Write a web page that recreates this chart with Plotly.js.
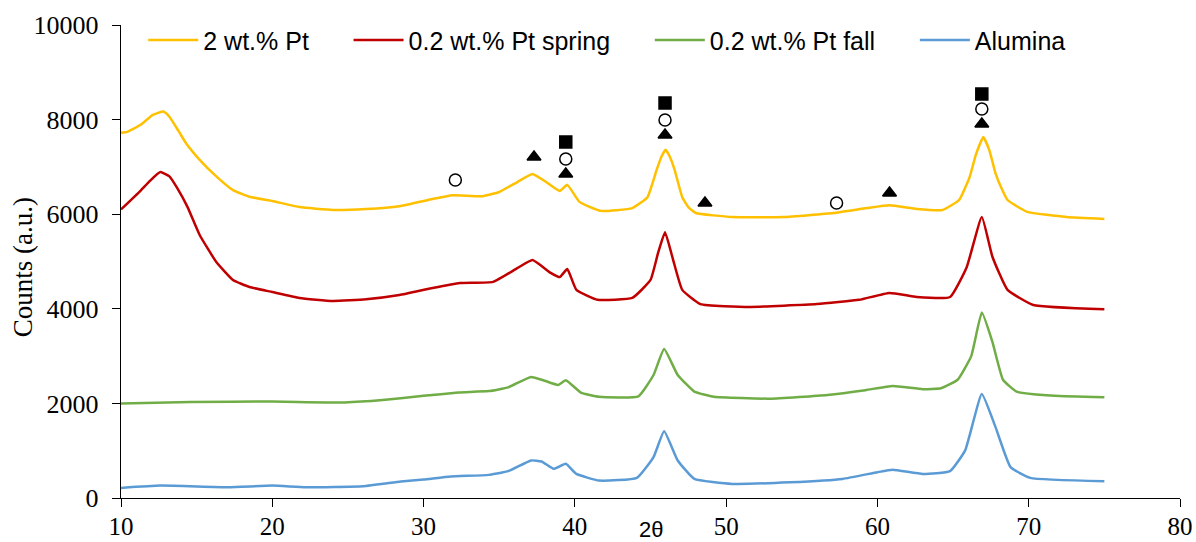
<!DOCTYPE html>
<html>
<head>
<meta charset="utf-8">
<script src="https://cdn.plot.ly/plotly-3.0.1.min.js"></script>
<style>html,body{margin:0;padding:0;background:#fff;}#chart{width:1196px;height:542px;}</style>
</head>
<body>
<div id="chart"></div>
<script>
// 2 wt.% Pt
const pt2X = [10, 10.4, 11.3, 12.1, 12.8, 13.2, 13.8, 14.3, 15.2, 16.3, 17.4, 18.5, 20.0, 21.8, 24.0, 26.2, 28.4, 30.6, 31.9, 33.9, 35.0, 36.2, 37.2, 38.1, 39.0, 39.5, 40.3, 41.7, 43.8, 44.8, 45.4, 45.7, 46.0, 46.3, 46.6, 47.1, 47.5, 48.0, 50.4, 53.8, 57.1, 59.3, 60.8, 62.6, 64.3, 65.4, 66.1, 66.5, 67.0, 67.4, 67.8, 68.2, 68.6, 69.9, 72.5, 75.0];
const pt2Y = [7720, 7740, 7890, 8100, 8170, 8060, 7760, 7500, 7150, 6800, 6510, 6370, 6280, 6150, 6090, 6110, 6170, 6320, 6400, 6380, 6470, 6680, 6850, 6680, 6490, 6620, 6260, 6070, 6130, 6360, 6930, 7200, 7360, 7200, 6930, 6360, 6150, 6025, 5940, 5940, 6025, 6130, 6190, 6110, 6090, 6300, 6790, 7250, 7630, 7350, 6870, 6550, 6300, 6050, 5940, 5900];

// 0.2 wt.% Pt spring
const springX = [10, 11.3, 11.9, 12.6, 13.2, 13.7, 14.4, 15.2, 16.3, 17.4, 18.5, 20.0, 21.8, 24.0, 26.2, 28.4, 30.6, 32.4, 34.6, 36.2, 37.2, 38.4, 39.0, 39.5, 40.1, 41.5, 43.8, 45.0, 45.5, 45.96, 46.5, 47.1, 48.3, 51.6, 56.0, 58.8, 60.8, 62.6, 64.8, 65.9, 66.9, 67.6, 68.6, 70.3, 75.0];
const springY = [6100, 6500, 6700, 6890, 6800, 6560, 6150, 5560, 4990, 4610, 4460, 4355, 4230, 4165, 4200, 4290, 4440, 4545, 4570, 4860, 5030, 4760, 4670, 4840, 4400, 4190, 4230, 4610, 5180, 5620, 5030, 4400, 4100, 4040, 4100, 4190, 4335, 4250, 4250, 4880, 5940, 5100, 4400, 4080, 3990];

// 0.2 wt.% Pt fall
const fallX = [10, 14.6, 20, 24.8, 27.3, 30, 32.3, 34.3, 35.6, 37.1, 38.0, 38.9, 39.4, 40.4, 41.6, 44.2, 45.2, 45.9, 46.8, 47.9, 49.2, 52.9, 56.7, 59.2, 61.0, 63.0, 64.2, 65.3, 66.2, 66.9, 67.6, 68.3, 69.2, 71.7, 75.0];
const fallY = [2000, 2030, 2040, 2020, 2070, 2160, 2230, 2260, 2340, 2560, 2480, 2390, 2490, 2230, 2140, 2150, 2600, 3150, 2600, 2250, 2140, 2100, 2180, 2280, 2370, 2300, 2320, 2500, 3000, 3920, 3300, 2500, 2250, 2160, 2130];

// Alumina
const aluX = [10, 12.6, 17.1, 20, 22.2, 26, 28.5, 30, 31.8, 34.3, 35.6, 37.1, 37.8, 38.6, 39.4, 40.1, 41.6, 44.1, 45.2, 45.9, 46.8, 47.9, 50.4, 54.2, 57.7, 60.0, 61.0, 63.0, 64.8, 65.8, 66.9, 67.8, 68.8, 70.1, 75.0];
const aluY = [213, 262, 227, 262, 227, 248, 348, 390, 454, 489, 567, 794, 773, 617, 723, 510, 369, 426, 865, 1411, 794, 404, 298, 333, 404, 546, 596, 510, 567, 1007, 2199, 1504, 652, 426, 355];

// phase markers
const markX = [32.1, 37.3, 39.4, 39.4, 39.4, 45.96, 45.96, 45.96, 48.6, 57.3, 60.8, 66.9, 66.9, 66.9];
const markY = [6723, 7209, 7526, 7167, 6850, 8351, 7992, 7674, 6237, 6237, 6448, 8541, 8224, 7907];
const markSymbol = ['circle-open', 'triangle-up', 'square', 'circle-open', 'triangle-up', 'square', 'circle-open', 'triangle-up', 'triangle-up', 'circle-open', 'triangle-up', 'square', 'circle-open', 'triangle-up'];

const seriesNames = ['2 wt.% Pt', '0.2 wt.% Pt spring', '0.2 wt.% Pt fall', 'Alumina'];
const seriesColors = ['#FFC000', '#C00000', '#70AD47', '#5B9BD5'];
const seriesX = [pt2X, springX, fallX, aluX];
const seriesY = [pt2Y, springY, fallY, aluY];

const pad = '\u00A0\u00A0\u00A0\u00A0\u00A0';
const traces = seriesNames.map((n, i) => ({
  type: 'scatter', mode: 'lines', name: n + pad,
  x: seriesX[i], y: seriesY[i],
  line: {color: seriesColors[i], width: 2.5, shape: 'spline', smoothing: 0.4}
}));
traces.push({
  type: 'scatter', mode: 'markers', showlegend: false, hoverinfo: 'skip',
  x: markX, y: markY,
  marker: {symbol: markSymbol, size: 12, color: '#000', line: {color: '#000', width: 1.5}}
});

const serif = 'Liberation Serif, Times New Roman, serif';
const layout = {
  width: 1196, height: 542,
  margin: {l: 121, r: 16, t: 25, b: 44},
  paper_bgcolor: '#fff', plot_bgcolor: '#fff',
  showlegend: true,
  legend: {orientation: 'h', x: 0.021, xanchor: 'left', y: 0.968, yanchor: 'middle',
           itemwidth: 50,
           font: {family: 'Liberation Sans, Arial, sans-serif', size: 25, color: '#000'},
           bgcolor: 'rgba(0,0,0,0)'},
  xaxis: {range: [10, 80], dtick: 10, tick0: 10, ticks: 'outside', ticklen: 8, tickcolor: '#000',
          showline: true, linecolor: '#000', linewidth: 1.3, showgrid: false, zeroline: false,
          ticklabelstandoff: -2, tickfont: {family: serif, size: 25, color: '#000'}},
  yaxis: {range: [0, 10000], dtick: 2000, tickformat: 'd', ticks: 'outside', ticklen: 8, tickcolor: '#000',
          showline: true, linecolor: '#000', linewidth: 1.3, showgrid: false, zeroline: false,
          ticklabelstandoff: 8, tickfont: {family: serif, size: 26, color: '#000'}},
  annotations: [
    {text: 'Counts (a.u.)', xref: 'paper', yref: 'paper', x: -0.0925, y: 0.488, textangle: -90,
     showarrow: false, xanchor: 'center', yanchor: 'middle',
     font: {family: serif, size: 27, color: '#000'}},
    {text: '2θ', xref: 'paper', yref: 'paper', x: 0.5005, y: -0.066, showarrow: false,
     xanchor: 'center', yanchor: 'middle',
     font: {family: 'Liberation Sans, Arial, sans-serif', size: 22, color: '#000'}}
  ]
};
Plotly.newPlot('chart', traces, layout, {displayModeBar: false, staticPlot: true});
</script>
</body>
</html>
